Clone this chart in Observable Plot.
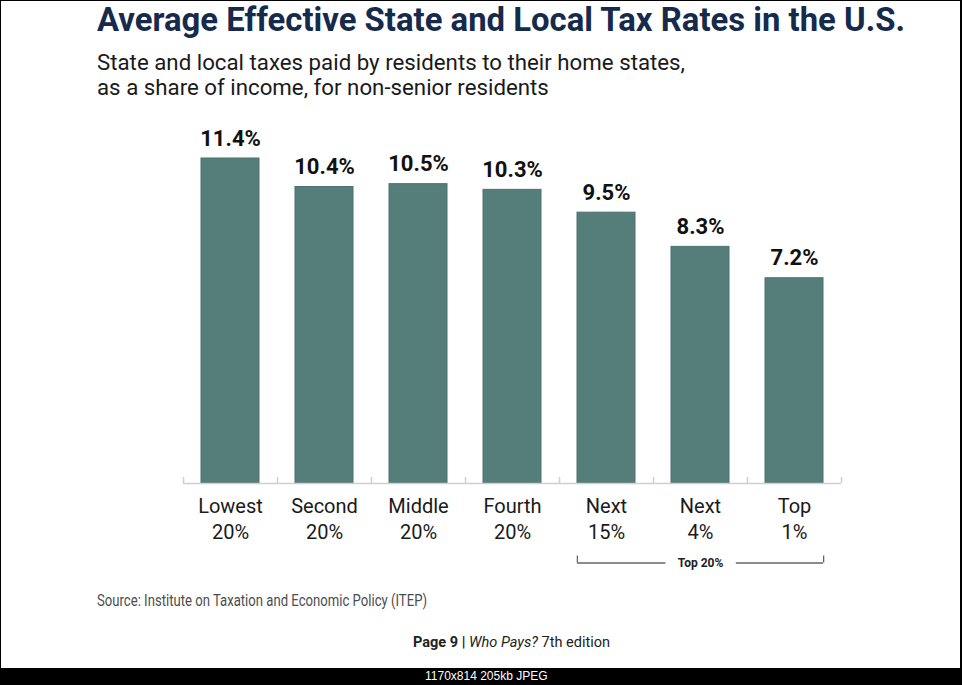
<!DOCTYPE html>
<html>
<head>
<meta charset="utf-8">
<script src="https://cdn.jsdelivr.net/npm/d3@7"></script>
<script src="https://cdn.jsdelivr.net/npm/@observablehq/plot@0.6"></script>
<style>
  html, body { margin: 0; padding: 0; background: #fff; }
  #page { position: relative; width: 962px; height: 685px; overflow: hidden; background: #fff; font-family: Roboto, "Noto Sans", sans-serif; }
  #frame { position: absolute; left: 0; top: 0; width: 959px; height: 668px; border-left: 1px solid #000; border-top: 1px solid #000; border-right: 2px solid #000; box-sizing: content-box; }
  #title { position: absolute; left: 97px; top: 4px; font-size: 32.5px; line-height: 32.5px; font-weight: 700; color: #162a4c; white-space: nowrap; transform-origin: left top; }
  #subtitle { position: absolute; left: 97px; top: 50px; font-size: 22px; line-height: 25px; color: #1a1a1a; white-space: nowrap; transform-origin: left top; }
  #chart { position: absolute; left: 0; top: 110px; }
  #source { position: absolute; left: 97px; top: 590px; font-size: 17px; line-height: 20px; font-weight: 400; color: #4d4d4d; white-space: nowrap; transform-origin: left top; }
  #pageline { position: absolute; left: 413px; top: 634px; font-size: 14.5px; line-height: 17px; color: #222; white-space: nowrap; transform-origin: left top; }
  #bar { position: absolute; left: 0; top: 668px; width: 962px; height: 17px; background: #000; }
  #bartext { position: absolute; left: 425px; top: 669px; font-size: 12px; line-height: 14px; color: #fff; font-family: "Liberation Sans", Arial, sans-serif; white-space: nowrap; }
</style>
</head>
<body>
<div id="page">
  <div id="frame"></div>
  <div id="title">Average Effective State and Local Tax Rates in the U.S.</div>
  <div id="subtitle">State and local taxes paid by residents to their home states,<br>as a share of income, for non-senior residents</div>
  <div id="chart"></div>
  <div id="source">Source: Institute on Taxation and Economic Policy (ITEP)</div>
  <div id="pageline"><b>Page 9 |</b> <i>Who Pays?</i> 7th edition</div>
  <div id="bar"></div>
  <div id="bartext">1170x814 205kb JPEG</div>
</div>
<script>
// ---- data ----
const groups = ["Lowest\n20%", "Second\n20%", "Middle\n20%", "Fourth\n20%", "Next\n15%", "Next\n4%", "Top\n1%"];
const rates = [11.4, 10.4, 10.5, 10.3, 9.5, 8.3, 7.2];
const bracketLabel = "Top 20%";
const bracketFrom = "Next\n15%";
const bracketTo = "Top\n1%";
const bracketMid = "Next\n4%";

const data = groups.map((g, i) => ({group: g, rate: rates[i]}));

const W = 962, H = 480;
const mL = 183, mR = 121, mT = 48, mB = 107;
const step = (W - mL - mR) / groups.length;
const padIn = 0.38;
const halfBar = step * (1 - padIn) / 2;
const frameH = H - mT - mB;

const barColor = "#557e7b";

const chart = Plot.plot({
  width: W,
  height: H,
  marginLeft: mL,
  marginRight: mR,
  marginTop: mT,
  marginBottom: mB,
  style: {fontFamily: "Roboto, sans-serif", color: "#1a1a1a", background: "transparent", overflow: "visible"},
  x: {domain: groups, paddingInner: padIn, paddingOuter: padIn / 2, label: null},
  y: {domain: [0, 11.4], axis: null},
  marks: [
    Plot.barY(data, {x: "group", y: "rate", fill: barColor, stroke: "#4a7370", strokeWidth: 1}),
    Plot.ruleY([0], {stroke: "#cfcfcf", strokeWidth: 1.5}),
    // boundary tick marks on the baseline
    Plot.ruleX(groups, {x: d => d, dx: -step / 2, insetTop: frameH - 6, stroke: "#cfcfcf", strokeWidth: 1.5}),
    Plot.ruleX([groups[groups.length - 1]], {x: d => d, dx: step / 2, insetTop: frameH - 6, stroke: "#cfcfcf", strokeWidth: 1.5}),
    Plot.text(data, {x: "group", y: "rate", text: d => d.rate.toFixed(1) + "%", dy: -13, lineAnchor: "bottom", fontSize: 22, fontWeight: 700, fill: "#111"}),
    Plot.axisX({tickSize: 0, tickPadding: 11.5, fontSize: 20, lineHeight: 1.3, fill: "#1a1a1a", label: null}),
    // bracket for Top 20%
    Plot.ruleY([0], {x1: () => bracketFrom, x2: () => bracketTo, dy: 79.5, stroke: "#666", strokeWidth: 1.3}),
    Plot.ruleX([bracketFrom], {x: d => d, dx: -halfBar, dy: 79.5, insetTop: frameH - 7, stroke: "#666", strokeWidth: 1.3}),
    Plot.ruleX([bracketTo], {x: d => d, dx: halfBar, dy: 79.5, insetTop: frameH - 7, stroke: "#666", strokeWidth: 1.3}),
    Plot.text([bracketLabel], {x: () => bracketMid, y: 0, text: d => d, dy: 80, fontSize: 12, fontWeight: 700, fill: "#222", stroke: "white", strokeWidth: 26})
  ]
});
document.getElementById("chart").appendChild(chart);

// fit texts to their widths in the reference
function fitWidth(id, target) {
  const el = document.getElementById(id);
  const w = el.getBoundingClientRect().width;
  if (w > 0) el.style.transform = `scaleX(${target / w})`;
}
fitWidth("title", 808);
fitWidth("subtitle", 588);
fitWidth("source", 330);
fitWidth("pageline", 197);
</script>
</body>
</html>
